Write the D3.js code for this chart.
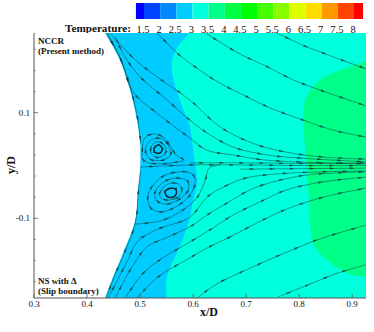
<!DOCTYPE html>
<html>
<head>
<meta charset="utf-8">
<script src="https://cdn.jsdelivr.net/npm/d3@7"></script>
<style>
  html, body { margin: 0; padding: 0; background: #fff; }
  text { font-family: "Liberation Serif", serif; fill: #111; }
</style>
</head>
<body>
<div id="chart"></div>
<script>
// Colour legend
const levels = [1.25, 1.5, 2, 2.5, 3, 3.5, 4, 4.5, 5, 5.5, 6, 6.5, 7, 7.5, 8, 8.28];
const levelColors = ["#0000ff", "#0044ff", "#0088ff", "#00ccff", "#00ffdd", "#00ff88", "#00ff44", "#00ff00",
    "#44ff00", "#88ff00", "#ddff00", "#ffdd00", "#ff9900", "#ff4400", "#ff0000"];
const levelLabels = [1.5, 2, 2.5, 3, 3.5, 4, 4.5, 5, 5.5, 6, 6.5, 7, 7.5, 8];

// Axis ticks
const xTicks = [0.3, 0.4, 0.5, 0.6, 0.7, 0.8, 0.9];
const yTicks = [0.1, -0.1];
const yMinor = [0.22, 0.18, 0.14, 0.06, 0.02, -0.02, -0.06, -0.14, -0.18, -0.22];

// Body surface and temperature contours (x/D, y/D)
const body = [[0.434, 0.251], [0.462, 0.200], [0.481, 0.143], [0.494, 0.086], [0.500, 0.043], [0.500, -0.009],
    [0.496, -0.046], [0.491, -0.103], [0.468, -0.166], [0.449, -0.211], [0.434, -0.251]];
const tempEdge3 = [[0.594, 0.251], [0.570, 0.224], [0.560, 0.194], [0.562, 0.168], [0.575, 0.124], [0.594, 0.073],
    [0.600, 0.029], [0.604, 0.001], [0.608, -0.033], [0.600, -0.065], [0.594, -0.098], [0.575, -0.154],
    [0.557, -0.192], [0.549, -0.223], [0.551, -0.251]];
const tempEdge35 = [[0.926, 0.198], [0.891, 0.185], [0.845, 0.166], [0.817, 0.137], [0.808, 0.105], [0.811, 0.035],
    [0.815, -0.009], [0.819, -0.071], [0.826, -0.145], [0.845, -0.173], [0.891, -0.204], [0.926, -0.211]];

// Streamlines running left to right
const line1 = [[0.758, 0.251], [0.811, 0.226], [0.840, 0.215], [0.896, 0.194], [0.926, 0.183]];
const line2 = [[0.623, 0.251], [0.647, 0.236], [0.689, 0.211], [0.740, 0.187], [0.789, 0.162], [0.845, 0.141], [0.926, 0.113]];
const line3 = [[0.532, 0.251], [0.570, 0.213], [0.594, 0.194], [0.647, 0.158], [0.694, 0.134], [0.745, 0.109], [0.802, 0.088], [0.864, 0.067], [0.926, 0.054]];
const line4 = [[0.443, 0.251], [0.491, 0.200], [0.532, 0.168], [0.594, 0.124], [0.651, 0.073], [0.721, 0.039], [0.783, 0.024], [0.845, 0.016], [0.926, 0.012]];
const line5 = [[0.453, 0.243], [0.472, 0.205], [0.500, 0.168], [0.551, 0.124], [0.594, 0.086], [0.626, 0.062], [0.675, 0.035], [0.740, 0.020], [0.802, 0.014], [0.926, 0.007]];
const line6 = [[0.438, 0.251], [0.462, 0.205], [0.487, 0.139], [0.532, 0.099], [0.594, 0.052], [0.626, 0.029], [0.675, 0.020], [0.740, 0.010], [0.926, 0.003]];
const wallTop = [[0.436, 0.251], [0.464, 0.200], [0.483, 0.143], [0.496, 0.086], [0.501, 0.043]];
const wallBottom = [[0.436, -0.251], [0.451, -0.211], [0.470, -0.166], [0.491, -0.109], [0.497, -0.046], [0.501, -0.009]];
const centre1 = [[0.500, -0.003], [0.594, 0.001], [0.700, 0.001], [0.800, 0.000], [0.926, 0.000]];
const centre2 = [[0.594, 0.005], [0.700, 0.005], [0.800, 0.004], [0.926, 0.005]];
const centre3 = [[0.689, -0.007], [0.800, -0.006], [0.926, -0.005]];
const line7 = [[0.440, -0.251], [0.477, -0.179], [0.494, -0.145], [0.530, -0.122], [0.594, -0.098], [0.626, -0.060], [0.657, -0.041], [0.698, -0.024], [0.758, -0.016], [0.845, -0.012], [0.926, -0.010]];
const line8 = [[0.453, -0.251], [0.485, -0.192], [0.513, -0.154], [0.549, -0.137], [0.594, -0.116], [0.626, -0.094], [0.664, -0.071], [0.708, -0.046], [0.751, -0.031], [0.815, -0.018], [0.926, -0.012]];
const line9 = [[0.472, -0.251], [0.506, -0.204], [0.543, -0.175], [0.594, -0.145], [0.638, -0.118], [0.675, -0.094], [0.726, -0.069], [0.777, -0.046], [0.845, -0.031], [0.926, -0.022]];
const line10 = [[0.494, -0.251], [0.534, -0.211], [0.594, -0.175], [0.619, -0.160], [0.666, -0.137], [0.740, -0.099], [0.783, -0.080], [0.853, -0.058], [0.926, -0.043]];
const line11 = [[0.608, -0.251], [0.642, -0.226], [0.713, -0.192], [0.796, -0.156], [0.845, -0.137], [0.926, -0.113]];
const line12 = [[0.760, -0.249], [0.817, -0.226], [0.872, -0.204], [0.926, -0.188]];
const separatrix = [[0.491, -0.111], [0.538, -0.105], [0.575, -0.088], [0.608, -0.060], [0.623, -0.027], [0.630, -0.005], [0.651, 0.001]];

// Closed recirculation loops
const smallLoop1 = [[0.528, 0.035], [0.536, 0.039], [0.542, 0.031], [0.538, 0.024], [0.530, 0.024], [0.526, 0.029]];
const smallLoop2 = [[0.521, 0.035], [0.530, 0.045], [0.543, 0.041], [0.549, 0.029], [0.543, 0.018], [0.530, 0.016], [0.521, 0.024]];
const smallLoop3 = [[0.511, 0.035], [0.523, 0.050], [0.542, 0.050], [0.555, 0.035], [0.557, 0.020], [0.542, 0.010], [0.519, 0.012], [0.511, 0.024]];
const smallLoop4 = [[0.504, 0.029], [0.509, 0.052], [0.525, 0.060], [0.543, 0.054], [0.557, 0.037], [0.568, 0.020], [0.583, 0.010], [0.572, 0.007], [0.538, 0.003], [0.511, 0.007], [0.504, 0.014]];
const largeLoop1 = [[0.547, -0.050], [0.557, -0.043], [0.568, -0.046], [0.566, -0.058], [0.553, -0.060]];
const largeLoop2 = [[0.538, -0.050], [0.553, -0.035], [0.572, -0.035], [0.579, -0.048], [0.568, -0.062], [0.547, -0.065], [0.538, -0.060]];
const largeLoop3 = [[0.528, -0.052], [0.542, -0.033], [0.566, -0.024], [0.589, -0.029], [0.591, -0.046], [0.572, -0.065], [0.547, -0.073], [0.530, -0.065]];
const largeLoop4 = [[0.515, -0.056], [0.534, -0.027], [0.560, -0.014], [0.594, -0.014], [0.604, -0.027], [0.594, -0.056], [0.566, -0.079], [0.538, -0.088], [0.519, -0.079]];

const streamlines = [line1, line2, line3, line4, line5, line6, wallTop, wallBottom, centre1, centre2, centre3,
    line7, line8, line9, line10, line11, line12, separatrix];
const loops = [smallLoop1, smallLoop2, smallLoop3, smallLoop4, largeLoop1, largeLoop2, largeLoop3, largeLoop4];
const innerLoops = [smallLoop1, largeLoop1];

const width = 374;
const height = 332;
const margin = { top: 33, right: 8, bottom: 34, left: 34 };

const svg = d3.select("#chart")
    .append("svg")
    .attr("width", width)
    .attr("height", height)
    .style("display", "block");

// Scales
const x = d3.scaleLinear().domain([0.3, 0.926]).range([margin.left, width - margin.right]);
const y = d3.scaleLinear().domain([-0.251, 0.251]).range([height - margin.bottom, margin.top]);
const legendX = d3.scaleLinear().domain([1.5, 8]).range([144, 354]);

const curve = d3.line().x(d => x(d[0])).y(d => y(d[1])).curve(d3.curveCatmullRom.alpha(0.5));
const closedCurve = d3.line().x(d => x(d[0])).y(d => y(d[1])).curve(d3.curveCatmullRomClosed.alpha(0.5));

// Legend
svg.selectAll(".legend-cell")
    .data(levelColors)
    .enter()
    .append("rect")
    .attr("class", "legend-cell")
    .attr("x", (d, i) => legendX(levels[i]))
    .attr("width", (d, i) => legendX(levels[i + 1]) - legendX(levels[i]))
    .attr("y", 3)
    .attr("height", 16)
    .attr("fill", d => d);

svg.selectAll(".legend-label")
    .data(levelLabels)
    .enter()
    .append("text")
    .attr("class", "legend-label")
    .attr("x", d => legendX(d) - 1)
    .attr("y", 33)
    .attr("text-anchor", "middle")
    .attr("font-size", 10.5)
    .text(d => d);

svg.append("text")
    .attr("x", 65)
    .attr("y", 32)
    .attr("font-size", 11.2)
    .attr("font-weight", "bold")
    .text("Temperature:");

// Temperature field
const field = svg.append("g");
const right = x.domain()[1];
const bottom = y.domain()[0];
const top_ = y.domain()[1];

field.append("rect")
    .attr("x", x(0.3))
    .attr("y", y(top_))
    .attr("width", x(right) - x(0.3))
    .attr("height", y(bottom) - y(top_))
    .attr("fill", "#00ccff");

field.append("path")
    .attr("d", curve(tempEdge3) + `L${x(right)},${y(bottom)}L${x(right)},${y(top_)}Z`)
    .attr("fill", "#00ffdd");

field.append("path")
    .attr("d", curve(tempEdge35) + "Z")
    .attr("fill", "#00ff88");

field.append("path")
    .attr("d", curve(body) + `L${x(0.3)},${y(bottom)}L${x(0.3)},${y(top_)}Z`)
    .attr("fill", "#fff");

// Streamlines
const lines = svg.append("g")
    .selectAll("path")
    .data(streamlines.map(d => curve(d)).concat(loops.map(d => closedCurve(d))))
    .enter()
    .append("path")
    .attr("d", d => d)
    .attr("fill", "none")
    .attr("stroke", "#123c3c")
    .attr("stroke-opacity", 0.85)
    .attr("stroke-width", 0.6);

// The innermost loops look much heavier in the picture
svg.append("g")
    .selectAll("path")
    .data(innerLoops)
    .enter()
    .append("path")
    .attr("d", d => closedCurve(d))
    .attr("fill", "none")
    .attr("stroke", "#0a1f22")
    .attr("stroke-width", 1.4);

// Arrowheads along each streamline
const arrows = svg.append("g");
lines.each(function(d, i) {
    const len = this.getTotalLength();
    const step = i >= streamlines.length ? 11 : 20;
    for (let s = step * 0.6; s < len - 3; s += step) {
        const p = this.getPointAtLength(s);
        const q = this.getPointAtLength(s + 1);
        const angle = Math.atan2(q.y - p.y, q.x - p.x) * 180 / Math.PI;
        arrows.append("path")
            .attr("d", "M2.5,0L-2.5,-1.1L-2.5,1.1Z")
            .attr("transform", `translate(${p.x},${p.y}) rotate(${angle})`)
            .attr("fill", "#123c3c")
            .attr("fill-opacity", 0.85);
    }
});

// Axes
const axisColor = "#555";
svg.append("line")
    .attr("x1", x(0.3)).attr("x2", x(0.3))
    .attr("y1", y(top_)).attr("y2", y(bottom))
    .attr("stroke", axisColor).attr("stroke-width", 1);
svg.append("line")
    .attr("x1", x(0.3)).attr("x2", x(right))
    .attr("y1", y(bottom)).attr("y2", y(bottom))
    .attr("stroke", axisColor).attr("stroke-width", 1);

svg.selectAll(".x-tick")
    .data(xTicks)
    .enter()
    .append("line")
    .attr("class", "x-tick")
    .attr("x1", d => x(d)).attr("x2", d => x(d))
    .attr("y1", y(bottom)).attr("y2", y(bottom) - 4)
    .attr("stroke", axisColor).attr("stroke-width", 0.8);

svg.selectAll(".y-tick")
    .data(yTicks)
    .enter()
    .append("line")
    .attr("class", "y-tick")
    .attr("x1", x(0.3)).attr("x2", x(0.3) + 4)
    .attr("y1", d => y(d)).attr("y2", d => y(d))
    .attr("stroke", axisColor).attr("stroke-width", 0.8);

svg.selectAll(".y-minor")
    .data(yMinor)
    .enter()
    .append("line")
    .attr("class", "y-minor")
    .attr("x1", x(0.3)).attr("x2", x(0.3) + 2)
    .attr("y1", d => y(d)).attr("y2", d => y(d))
    .attr("stroke", axisColor).attr("stroke-width", 0.6);

svg.selectAll(".x-label")
    .data(xTicks)
    .enter()
    .append("text")
    .attr("class", "x-label")
    .attr("x", d => x(d))
    .attr("y", y(bottom) + 9)
    .attr("text-anchor", "middle")
    .attr("font-size", 9)
    .text(d => d);

svg.selectAll(".y-label")
    .data(yTicks)
    .enter()
    .append("text")
    .attr("class", "y-label")
    .attr("x", x(0.3) - 4)
    .attr("y", d => y(d) + 3)
    .attr("text-anchor", "end")
    .attr("font-size", 9)
    .text(d => d);

svg.append("text")
    .attr("x", 209)
    .attr("y", 316)
    .attr("text-anchor", "middle")
    .attr("font-size", 12)
    .attr("font-weight", "bold")
    .text("x/D");

svg.append("text")
    .attr("transform", "translate(15,165) rotate(-90)")
    .attr("text-anchor", "middle")
    .attr("font-size", 12)
    .attr("font-weight", "bold")
    .text("y/D");

// Annotations
const notes = [["NCCR", 44], ["(Present method)", 54], ["NS with Δ", 284], ["(Slip boundary)", 294]];
svg.selectAll(".note")
    .data(notes)
    .enter()
    .append("text")
    .attr("class", "note")
    .attr("x", 38)
    .attr("y", d => d[1])
    .attr("font-size", 9)
    .attr("font-weight", "bold")
    .text(d => d[0]);
</script>
</body>
</html>
